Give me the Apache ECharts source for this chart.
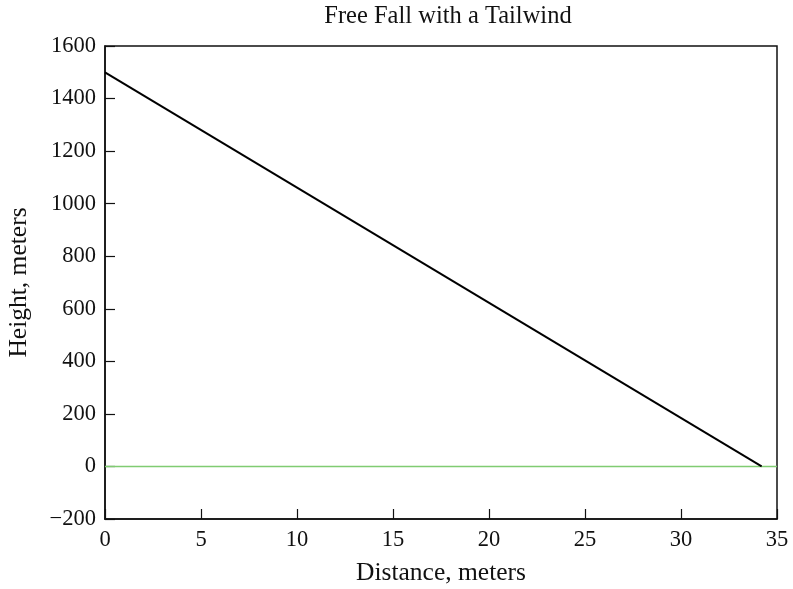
<!DOCTYPE html>
<html>
<head>
<meta charset="utf-8">
<script src="https://cdn.jsdelivr.net/npm/echarts@6/dist/echarts.min.js"></script>
<style>
html,body{margin:0;padding:0;background:#fff;}
#chart{width:793px;height:589px;}
</style>
</head>
<body>
<div id="chart"></div>
<script>
const titleText = "Free Fall with a Tailwind";
const xName = "Distance, meters";
const yName = "Height, meters";
const distance = [0, 34.2];
const height = [1500, 0];
const groundX = [0, 35];
const groundY = [0, 0];
const xTicks = {min: 0, max: 35, interval: 5};
const yTicks = {min: -200, max: 1600, interval: 200};

const font = "'Liberation Serif', 'Times New Roman', serif";
const chart = echarts.init(document.getElementById('chart'), null, {renderer: 'canvas'});
chart.setOption({
  animation: false,
  backgroundColor: '#fff',
  title: {
    text: titleText,
    left: 443, top: -1, textAlign: 'center',
    textStyle: {fontFamily: font, fontSize: 24.5, fontWeight: 'normal', color: '#111'}
  },
  grid: {
    left: 105, right: 16, top: 46, bottom: 70,
    containLabel: false, outerBoundsMode: 'none',
    show: true, borderColor: '#111', borderWidth: 1.5, backgroundColor: 'transparent'
  },
  xAxis: {
    type: 'value', min: xTicks.min, max: xTicks.max, interval: xTicks.interval,
    name: xName, nameLocation: 'middle', nameGap: 41,
    nameTextStyle: {fontFamily: font, fontSize: 25.5, color: '#111'},
    axisLine: {show: true, onZero: false, lineStyle: {color: '#111', width: 1.5}},
    axisTick: {show: true, inside: true, length: 10, lineStyle: {color: '#111', width: 1.2}},
    axisLabel: {fontFamily: font, fontSize: 22.5, color: '#111', margin: 10},
    splitLine: {show: false}
  },
  yAxis: {
    type: 'value', min: yTicks.min, max: yTicks.max, interval: yTicks.interval,
    name: yName, nameLocation: 'middle', nameGap: 73,
    nameTextStyle: {fontFamily: font, fontSize: 25.5, color: '#111'},
    axisLine: {show: true, onZero: false, lineStyle: {color: '#111', width: 1.5}},
    axisTick: {show: true, inside: true, length: 10, lineStyle: {color: '#111', width: 1.2}},
    axisLabel: {fontFamily: font, fontSize: 22.5, color: '#111', margin: 9,
      formatter: v => v < 0 ? '\u2212' + Math.abs(v) : String(v)},
    splitLine: {show: false}
  },
  series: [
    {
      type: 'line', data: groundX.map((x, i) => [x, groundY[i]]),
      showSymbol: false, symbol: 'none',
      lineStyle: {color: '#80cc72', width: 1.6}, z: 2
    },
    {
      type: 'line', data: distance.map((x, i) => [x, height[i]]),
      showSymbol: false, symbol: 'none',
      lineStyle: {color: '#000', width: 2}, z: 3
    }
  ]
});
</script>
</body>
</html>
